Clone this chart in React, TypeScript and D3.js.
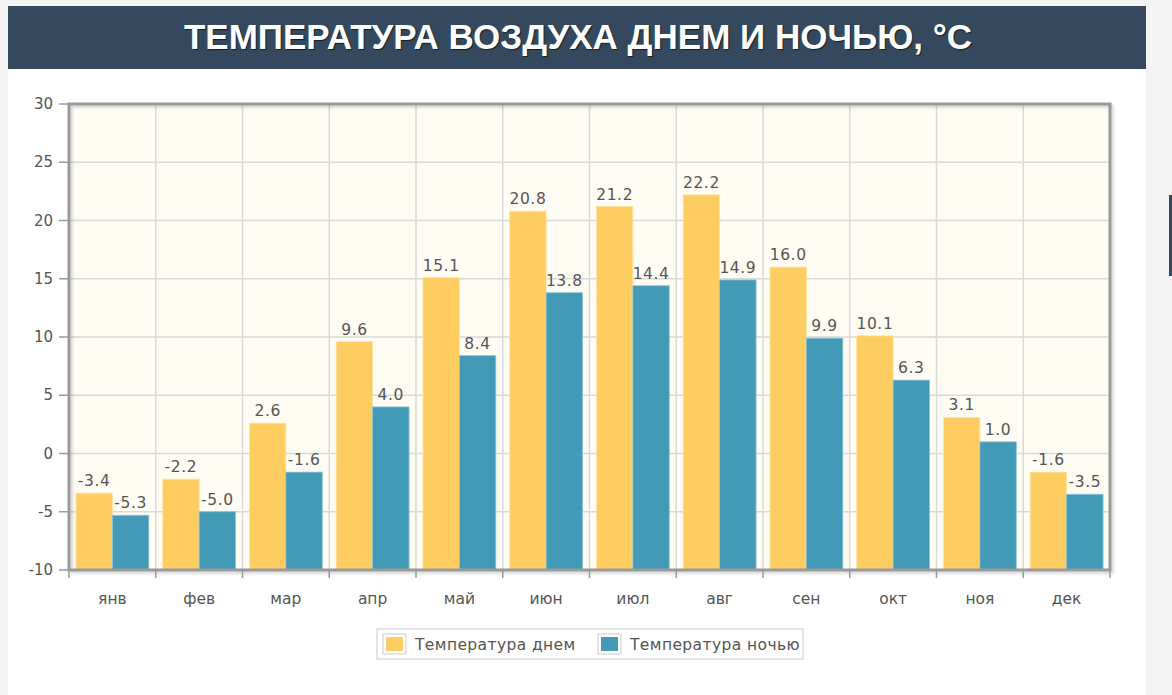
import React from "react";
import * as d3 from "d3";

const months = ["янв", "фев", "мар", "апр", "май", "июн", "июл", "авг", "сен", "окт", "ноя", "дек"];
const dayTemp = [-3.4, -2.2, 2.6, 9.6, 15.1, 20.8, 21.2, 22.2, 16.0, 10.1, 3.1, -1.6];
const nightTemp = [-5.3, -5.0, -1.6, 4.0, 8.4, 13.8, 14.4, 14.9, 9.9, 6.3, 1.0, -3.5];
const seriesNames = ["Температура днем", "Температура ночью"];
const yTicks = [30, 25, 20, 15, 10, 5, 0, -5, -10];
const title = "ТЕМПЕРАТУРА ВОЗДУХА ДНЕМ И НОЧЬЮ, °C";

const W = 1172, H = 695;
const plot = { left: 69, right: 1110, top: 104, bottom: 570 };
const colors = ["#fecd62", "#429ab6"];
const font = "'DejaVu Sans', Verdana, sans-serif";

export default function App() {
  const x = d3.scaleBand<string>().domain(months).range([plot.left, plot.right]).paddingInner(0.16).paddingOuter(0.08);
  const x0 = d3.scaleBand<string>().domain(months).range([plot.left, plot.right]);
  const sub = d3.scaleBand<number>().domain([0, 1]).range([0, x.bandwidth()]);
  const y = d3.scaleLinear().domain([-10, 30]).range([plot.bottom, plot.top]);
  const series = [dayTemp, nightTemp];

  return (
    <svg width={W} height={H} style={{ position: "absolute", left: 0, top: 0 }}>
      <defs>
        <filter id="sh" x="-5%" y="-5%" width="110%" height="110%">
          <feDropShadow dx="2" dy="2" stdDeviation="1.5" floodColor="#000" floodOpacity="0.18" />
        </filter>
      </defs>
      <rect x={0} y={0} width={W} height={H} fill="#f4f4f5" />
      <rect x={8} y={6} width={1138} height={H - 6} fill="#ffffff" />
      <rect x={8} y={6} width={1138} height={63} fill="#34495e" />
      <text x={578} y={49} textAnchor="middle" fill="#ffffff" fontFamily="'Liberation Sans', Arial, sans-serif" fontWeight="bold" fontSize={35}
        style={{ textShadow: "1px 1px 1px rgba(0,0,0,0.6)" }}>{title}</text>
      <rect x={1169} y={195} width={3} height={81} fill="#34495e" />

      {/* plot background */}
      <rect x={plot.left} y={plot.top} width={plot.right - plot.left} height={plot.bottom - plot.top} fill="#fffcf4" />
      {/* horizontal grid */}
      {yTicks.map((t) => (
        <line key={"h" + t} x1={plot.left} x2={plot.right} y1={y(t)} y2={y(t)} stroke="#d9d9d9" strokeWidth={1.5} />
      ))}
      {/* vertical grid */}
      {months.slice(1).map((m) => (
        <line key={"v" + m} x1={x0(m)!} x2={x0(m)!} y1={plot.top} y2={plot.bottom} stroke="#d9d9d9" strokeWidth={1.5} />
      ))}
      {/* bars */}
      {series.map((vals, si) =>
        vals.map((v, i) => {
          const bx = x(months[i])! + sub(si)!;
          const yt = y(v);
          return (
            <rect key={`b${si}-${i}`} x={bx} y={yt} width={sub.bandwidth()} height={plot.bottom - yt}
              fill={colors[si]} stroke={si === 0 ? "#ffe3a0" : "#8cc3d6"} strokeWidth={0.8} />
          );
        })
      )}
      {/* value labels */}
      {series.map((vals, si) =>
        vals.map((v, i) => {
          const bx = x(months[i])! + sub(si)! + sub.bandwidth() / 2;
          return (
            <text key={`l${si}-${i}`} x={bx} y={y(v) - 7} textAnchor="middle" fontFamily={font} fontSize={15.5}
              fill="#555555" letterSpacing={0.6}>{v.toFixed(1)}</text>
          );
        })
      )}
      {/* frame */}
      <rect x={plot.left} y={plot.top} width={plot.right - plot.left} height={plot.bottom - plot.top}
        fill="none" stroke="#9a9a9a" strokeWidth={3} filter="url(#sh)" />
      {/* y ticks */}
      {yTicks.map((t) => (
        <g key={"yt" + t}>
          <line x1={59} x2={plot.left} y1={y(t)} y2={y(t)} stroke="#9a9a9a" strokeWidth={1.5} />
          <text x={53} y={y(t) + 5} textAnchor="end" fontFamily={font} fontSize={15} fill="#555555">{t}</text>
        </g>
      ))}
      {/* x ticks and labels */}
      {months.map((m, i) => (
        <g key={"xt" + m}>
          {i > 0 && <line x1={x0(m)!} x2={x0(m)!} y1={plot.bottom} y2={plot.bottom + 8} stroke="#9a9a9a" strokeWidth={1.5} />}
          <text x={x0(m)! + x0.bandwidth() / 2} y={604} textAnchor="middle" fontFamily={font} fontSize={15.5} fill="#555555">{m}</text>
        </g>
      ))}
      <line x1={plot.right} x2={plot.right} y1={plot.bottom} y2={plot.bottom + 8} stroke="#9a9a9a" strokeWidth={1.5} />
      <line x1={plot.left} x2={plot.left} y1={plot.bottom} y2={plot.bottom + 8} stroke="#9a9a9a" strokeWidth={1.5} />

      {/* legend */}
      <rect x={377} y={629} width={426} height={30} fill="#ffffff" stroke="#cccccc" strokeWidth={1} />
      {seriesNames.map((n, i) => {
        const lx = i === 0 ? 383 : 598;
        return (
          <g key={"lg" + i}>
            <rect x={lx} y={634} width={23} height={20} fill="#fff" stroke="#cccccc" strokeWidth={1} />
            <rect x={lx + 3} y={637} width={17} height={14} fill={colors[i]} />
            <text x={lx + 32} y={649.5} fontFamily={font} fontSize={15.5} fill="#555555" letterSpacing={0.4}>{n}</text>
          </g>
        );
      })}
    </svg>
  );
}
